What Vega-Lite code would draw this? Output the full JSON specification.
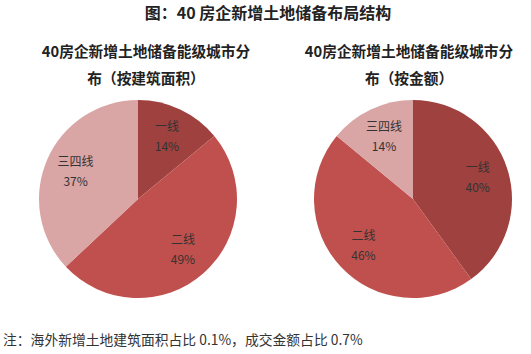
{
  "$schema": "https://vega.github.io/schema/vega-lite/v6.json",
  "background": "white",
  "padding": {"left": 3, "top": 6, "right": 3, "bottom": 3},
  "config": {
    "font": "Noto Sans CJK SC",
    "view": {"stroke": null}
  },
  "title": {
    "text": "图：40 房企新增土地储备布局结构",
    "fontSize": 16,
    "fontWeight": "bold",
    "color": "#222222",
    "anchor": "middle",
    "dx": 10,
    "offset": 23
  },
  "datasets": {
    "area": [
      {"category": "一线", "rank": 1, "value": 14, "pct": "14%"},
      {"category": "二线", "rank": 2, "value": 49, "pct": "49%"},
      {"category": "三四线", "rank": 3, "value": 37, "pct": "37%"}
    ],
    "amount": [
      {"category": "一线", "rank": 1, "value": 40, "pct": "40%"},
      {"category": "二线", "rank": 2, "value": 46, "pct": "46%"},
      {"category": "三四线", "rank": 3, "value": 14, "pct": "14%"}
    ]
  },
  "vconcat": [
    {
      "title": {
        "text": "注：海外新增土地建筑面积占比 0.1%，成交金额占比 0.7%",
        "orient": "bottom",
        "anchor": "start",
        "dx": -35,
        "offset": 35,
        "fontSize": 13.8,
        "fontWeight": "normal",
        "color": "#333333"
      },
      "bounds": "flush",
      "spacing": 75,
      "hconcat": [
        {
          "width": 200,
          "height": 200,
          "data": {"name": "area"},
          "title": {
            "text": ["40房企新增土地储备能级城市分", "布（按建筑面积）"],
            "fontSize": 14.7,
            "fontWeight": "bold",
            "lineHeight": 27,
            "color": "#222222",
            "dx": 8,
            "offset": 12
          },
          "encoding": {
            "theta": {"field": "value", "type": "quantitative", "stack": true},
            "order": {"field": "rank", "type": "quantitative"}
          },
          "layer": [
            {
              "mark": {"type": "arc", "outerRadius": 99},
              "encoding": {
                "color": {
                  "field": "category",
                  "type": "nominal",
                  "scale": {"domain": ["一线", "二线", "三四线"], "range": ["#9E413F", "#C0504D", "#D9A5A5"]},
                  "legend": null
                }
              }
            },
            {
              "mark": {"type": "text", "radius": 68, "dy": -10, "fontSize": 12, "color": "#333333"},
              "encoding": {"text": {"field": "category"}}
            },
            {
              "mark": {"type": "text", "radius": 68, "dy": 10, "fontSize": 12, "color": "#333333"},
              "encoding": {"text": {"field": "pct"}}
            }
          ]
        },
        {
          "width": 200,
          "height": 200,
          "data": {"name": "amount"},
          "title": {
            "text": ["40房企新增土地储备能级城市分", "布（按金额）"],
            "fontSize": 14.7,
            "fontWeight": "bold",
            "lineHeight": 27,
            "color": "#222222",
            "dx": -4,
            "offset": 12
          },
          "encoding": {
            "theta": {"field": "value", "type": "quantitative", "stack": true},
            "order": {"field": "rank", "type": "quantitative"}
          },
          "layer": [
            {
              "mark": {"type": "arc", "outerRadius": 99},
              "encoding": {
                "color": {
                  "field": "category",
                  "type": "nominal",
                  "scale": {"domain": ["一线", "二线", "三四线"], "range": ["#9E413F", "#C0504D", "#D9A5A5"]},
                  "legend": null
                }
              }
            },
            {
              "mark": {"type": "text", "radius": 68, "dy": -10, "fontSize": 12, "color": "#333333"},
              "encoding": {"text": {"field": "category"}}
            },
            {
              "mark": {"type": "text", "radius": 68, "dy": 10, "fontSize": 12, "color": "#333333"},
              "encoding": {"text": {"field": "pct"}}
            }
          ]
        }
      ]
    }
  ]
}
